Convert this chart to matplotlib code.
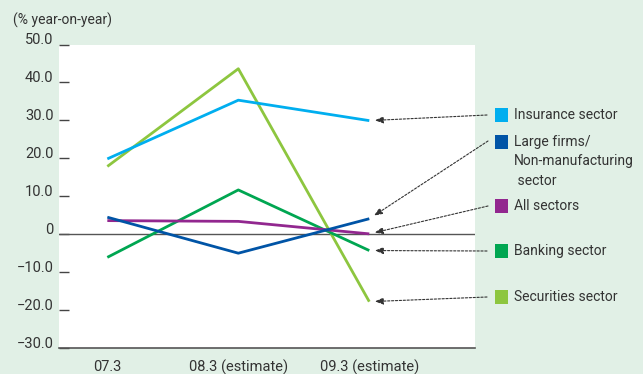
import matplotlib.pyplot as plt
from matplotlib.patches import Rectangle

plt.rcParams['font.family'] = ['Roboto', 'DejaVu Sans']

W, H = 643, 374

periods = ["07.3", "08.3 (estimate)", "09.3 (estimate)"]
insurance = [19.8, 35.3, 29.9]
large_firms = [4.4, -5.1, 4.0]
all_sectors = [3.5, 3.3, 0.0]
banking = [-6.2, 11.6, -4.4]
securities = [17.8, 43.6, -17.9]

y_ticks = [50, 40, 30, 20, 10, 0, -10, -20, -30]
y_tick_labels = ["50.0", "40.0", "30.0", "20.0", "10.0", "0", "\u221210.0", "\u221220.0", "\u221230.0"]

# name, values, colour, legend row centre (px), arrow start (px)
series = [
    ("Insurance sector", insurance, "#00aeef", 115, (487, 115)),
    ("Large firms/\nNon-manufacturing\n sector", large_firms, "#0054a6", 142, (488, 141)),
    ("All sectors", all_sectors, "#92278f", 206, (488, 206)),
    ("Banking sector", banking, "#00a651", 251, (487, 251)),
    ("Securities sector", securities, "#8dc63f", 297, (487, 297)),
]

bg = "#e1f0e6"
txt = "#333333"


def px(x, y):
    return x / W, 1 - y / H


fig = plt.figure(figsize=(W / 100, H / 100), dpi=100)
fig.patch.set_facecolor(bg)

left, right, top, bottom = 59, 475, 44.5, 347.5
ax = fig.add_axes([left / W, 1 - bottom / H, (right - left) / W, (bottom - top) / H])
ax.set_facecolor("white")

x = range(len(periods))
for name, vals, col, _, _ in series[::-1]:
    ax.plot(x, vals, color=col, lw=2.0, solid_capstyle="butt", zorder=3)

ax.axhline(0, color="#555555", lw=1.0, zorder=2)

ax.set_xlim(-0.369, 2.807)
ax.set_ylim(-30, 50)

for s in ["left", "top", "right"]:
    ax.spines[s].set_visible(False)
ax.spines["bottom"].set_color("#555555")
ax.spines["bottom"].set_linewidth(1.2)

ax.set_yticks(y_ticks)
ax.set_yticklabels(y_tick_labels)
for lab in ax.get_yticklabels():
    lab.set_verticalalignment("baseline")
ax.tick_params(axis="y", direction="in", length=7, width=1.0, color="#444444",
               pad=4, labelsize=10.5, labelcolor=txt)

ax.set_xticks(list(x))
ax.set_xticklabels(periods)
ax.tick_params(axis="x", length=0, pad=9, labelsize=10.5, labelcolor=txt)

fig.text(*px(13, 20), "(% year-on-year)", fontsize=10, color=txt, va="center", ha="left")

# legend boxes with dotted pointers to the last value of each line
for name, vals, col, yc, start in series:
    fig.add_artist(Rectangle(px(495, yc + 7), 13 / W, 14 / H, transform=fig.transFigure,
                             facecolor=col, edgecolor="none"))
    if "\n" in name:
        fig.text(*px(514, yc - 7), name, fontsize=10, color=txt, va="top", ha="left",
                 linespacing=1.5)
    else:
        fig.text(*px(514, yc), name, fontsize=10, color=txt, va="center", ha="left")
    ax.annotate("", xy=(2, vals[-1]), xycoords="data",
                xytext=px(*start), textcoords="figure fraction",
                arrowprops=dict(arrowstyle="-|>,head_length=0.5,head_width=0.2",
                                color="#333333", lw=0.8, linestyle=(0, (2, 1.5)),
                                shrinkA=0, shrinkB=4))

fig.savefig("out.png", dpi=100, facecolor=bg)
